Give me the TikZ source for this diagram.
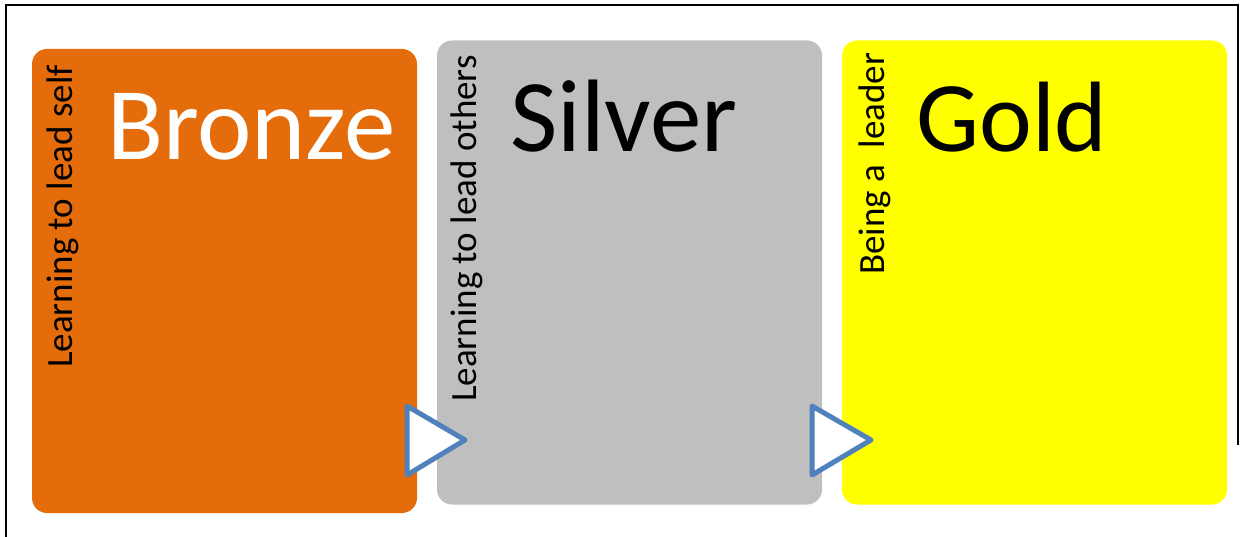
\documentclass[tikz,border=0pt]{standalone}
\usepackage{fontspec}
\setmainfont{Carlito}
\definecolor{bronzeorange}{HTML}{E46C0A}
\definecolor{silvergray}{HTML}{BFBFBF}
\definecolor{goldyellow}{HTML}{FFFF00}
\definecolor{arrowblue}{HTML}{4F81BD}

\begin{document}
\begin{tikzpicture}[x=1pt,y=-1pt,
  medal/.style={rectangle,rounded corners=15pt,minimum width=385pt,minimum height=464pt,inner sep=0pt},
  title/.style={anchor=base west,inner sep=0pt,font=\fontsize{103}{114}\selectfont},
  side/.style={anchor=base west,rotate=90,inner sep=0pt,font=\fontsize{37}{44}\selectfont},
  steparrow/.style={draw=arrowblue,line width=5pt,fill=white,line join=round}]
\useasboundingbox (0,0) rectangle (1240,537);
% frame
\draw[line width=2pt] (6,545) -- (6,5) -- (1238,5) -- (1238,445);
% the three boxes
\node[medal,fill=bronzeorange] (bronze) at (224.5,281) {};
\node[medal,fill=silvergray] (silver) at (629.5,272.5) {};
\node[medal,fill=goldyellow] (gold) at (1034.5,272.5) {};
\node[title,text=white] (bronzetitle) at (107,160) {Bronze};
\node[title] (silvertitle) at (510,152) {Silver};
\node[title,font=\fontsize{100}{110}\selectfont] (goldtitle) at (916,152) {Gold};
\node[side] (bronzeside) at (72,368) {Learning to lead self};
\node[side] (silverside) at (476,402) {Learning to lead others};
\node[side] (goldside) at (884,275) {Being a~~leader};
% arrows between boxes
\draw[steparrow] (407,406) -- (407,475) -- (465,440) -- cycle;
\draw[steparrow] (812,406) -- (812,475) -- (871,440) -- cycle;
\end{tikzpicture}
\end{document}
